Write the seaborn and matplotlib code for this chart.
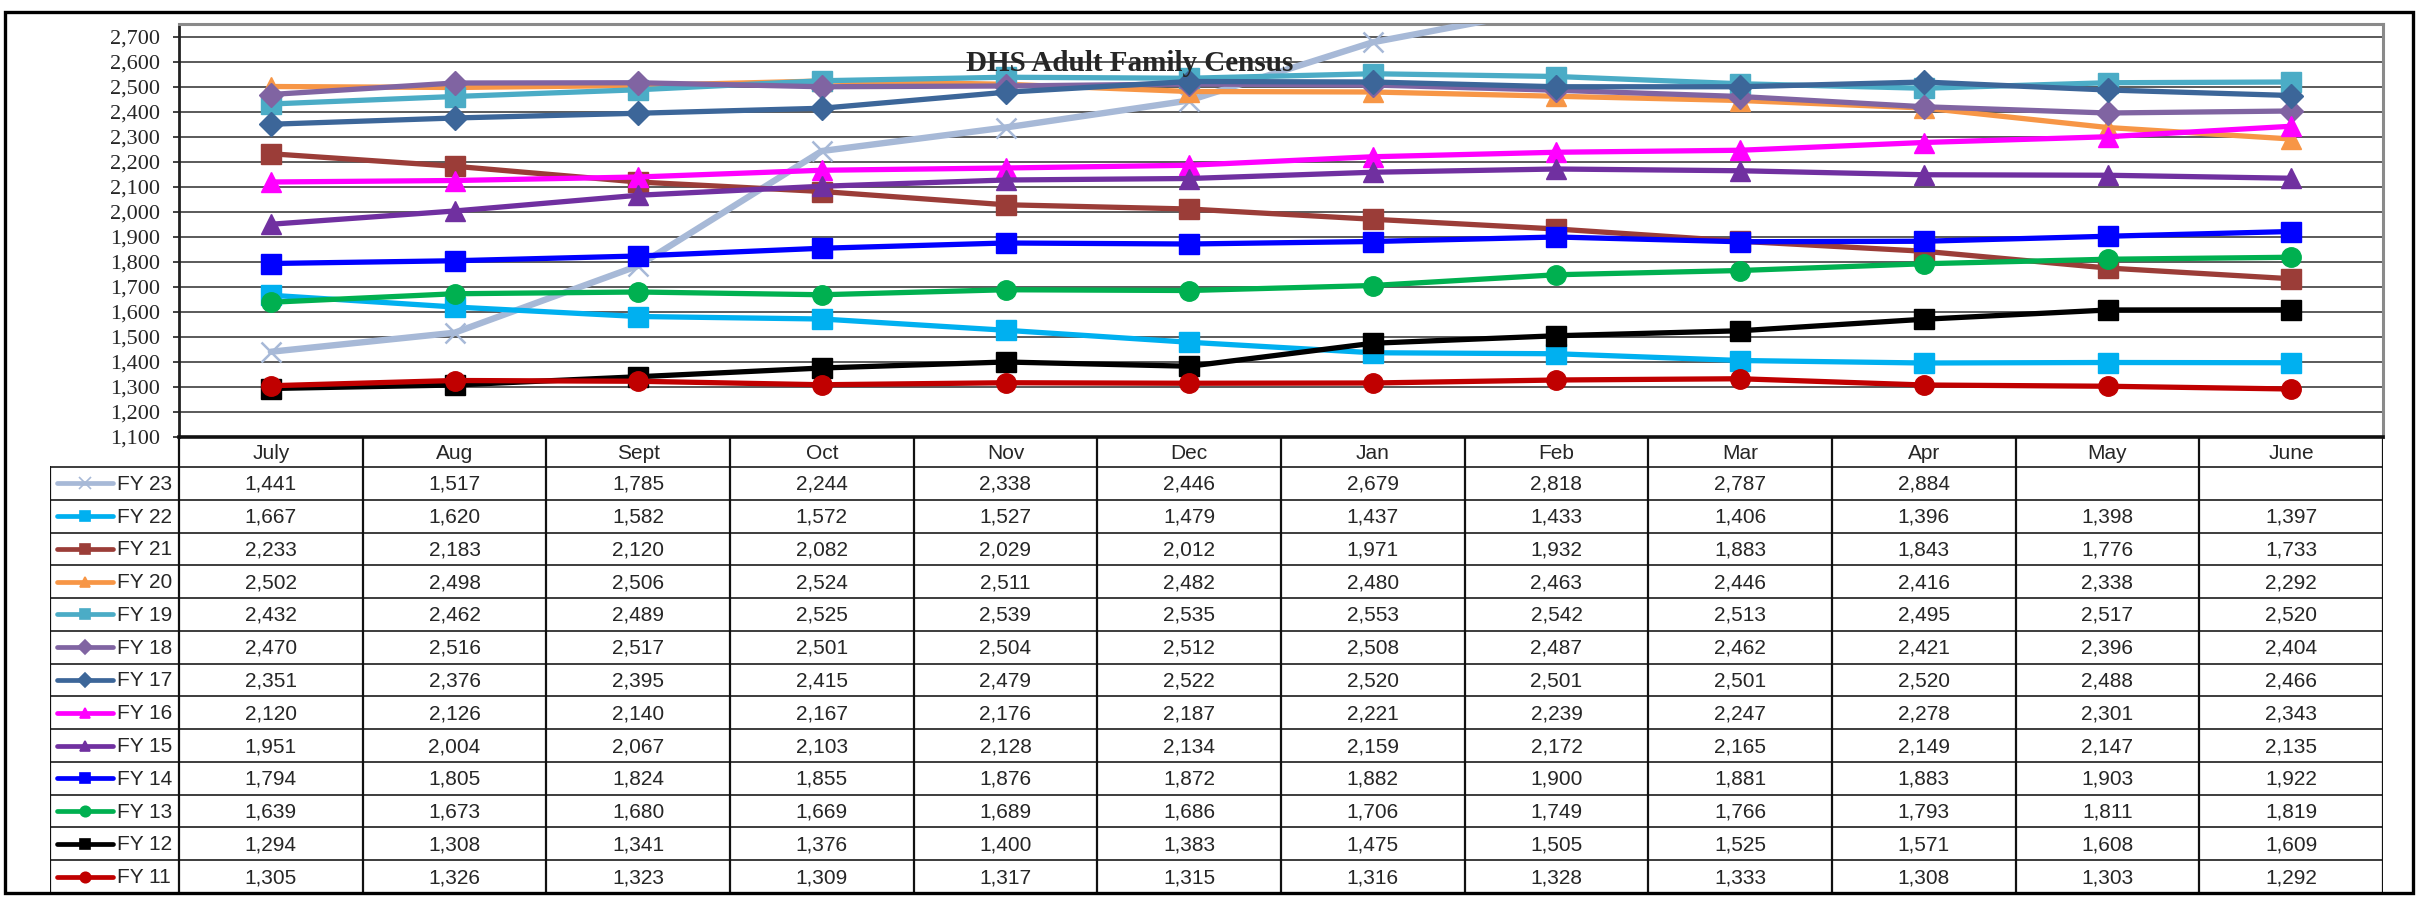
import numpy as np
import pandas as pd
import matplotlib
matplotlib.use("Agg")
import matplotlib.pyplot as plt
from matplotlib.patches import Rectangle
from matplotlib.ticker import FuncFormatter
import seaborn as sns

sns.set_style("white")
plt.rcParams['font.family'] = ['Liberation Sans', 'DejaVu Sans']

months = ["July", "Aug", "Sept", "Oct", "Nov", "Dec", "Jan", "Feb", "Mar", "Apr", "May", "June"]
series_names = ["FY 23", "FY 22", "FY 21", "FY 20", "FY 19", "FY 18", "FY 17",
                "FY 16", "FY 15", "FY 14", "FY 13", "FY 12", "FY 11"]

fy23 = [1441, 1517, 1785, 2244, 2338, 2446, 2679, 2818, 2787, 2884, np.nan, np.nan]
fy22 = [1667, 1620, 1582, 1572, 1527, 1479, 1437, 1433, 1406, 1396, 1398, 1397]
fy21 = [2233, 2183, 2120, 2082, 2029, 2012, 1971, 1932, 1883, 1843, 1776, 1733]
fy20 = [2502, 2498, 2506, 2524, 2511, 2482, 2480, 2463, 2446, 2416, 2338, 2292]
fy19 = [2432, 2462, 2489, 2525, 2539, 2535, 2553, 2542, 2513, 2495, 2517, 2520]
fy18 = [2470, 2516, 2517, 2501, 2504, 2512, 2508, 2487, 2462, 2421, 2396, 2404]
fy17 = [2351, 2376, 2395, 2415, 2479, 2522, 2520, 2501, 2501, 2520, 2488, 2466]
fy16 = [2120, 2126, 2140, 2167, 2176, 2187, 2221, 2239, 2247, 2278, 2301, 2343]
fy15 = [1951, 2004, 2067, 2103, 2128, 2134, 2159, 2172, 2165, 2149, 2147, 2135]
fy14 = [1794, 1805, 1824, 1855, 1876, 1872, 1882, 1900, 1881, 1883, 1903, 1922]
fy13 = [1639, 1673, 1680, 1669, 1689, 1686, 1706, 1749, 1766, 1793, 1811, 1819]
fy12 = [1294, 1308, 1341, 1376, 1400, 1383, 1475, 1505, 1525, 1571, 1608, 1609]
fy11 = [1305, 1326, 1323, 1309, 1317, 1315, 1316, 1328, 1333, 1308, 1303, 1292]

series_values = [fy23, fy22, fy21, fy20, fy19, fy18, fy17, fy16, fy15, fy14, fy13, fy12, fy11]

colors = ["#A7B9D7", "#00B0F0", "#9B3D38", "#F79646", "#4BACC6", "#8064A2", "#3C6699",
          "#FF00FF", "#7030A0", "#0000FF", "#00B050", "#000000", "#C00000"]
markers = ["x", "s", "s", "^", "s", "D", "D", "^", "^", "s", "o", "s", "o"]
msizes = [15, 14, 14, 15, 14, 12, 12, 15, 15, 14, 14, 14, 14]

Y_MIN, Y_MAX = 1100, 2752

rows = []
for name, vals in zip(series_names, series_values):
    for i, (m, v) in enumerate(zip(months, vals)):
        rows.append({"series": name, "pos": i, "month": m, "value": v})
df = pd.DataFrame(rows)

W, H = 2429, 897
fig = plt.figure(figsize=(W / 100, H / 100), dpi=100)

# pixel geometry
ax_l, ax_r, ax_t, ax_b = 179, 2383, 24, 437
tb_l, tb_b = 50, 893
ax = fig.add_axes([ax_l / W, 1 - ax_b / H, (ax_r - ax_l) / W, (ax_b - ax_t) / H])

for k, name in enumerate(series_names):
    sub = df[df["series"] == name].dropna()
    lw = 4.6 if name == "FY 23" else 3.8
    # like Excel: markers of points beyond the axis maximum are not shown
    visible = [i for i, v in enumerate(sub["value"].tolist()) if v <= Y_MAX]
    sns.lineplot(data=sub, x="pos", y="value", ax=ax, color=colors[k], marker=markers[k],
                 markersize=msizes[k], linewidth=lw, markeredgecolor=colors[k],
                 markeredgewidth=1.8 if markers[k] == "x" else 1, sort=False,
                 markevery=visible, zorder=3 + k, legend=False)

ax.set_xlim(-0.5, 11.5)
ax.set_ylim(Y_MIN, Y_MAX)
ax.set_yticks(range(1100, 2701, 100))
ax.yaxis.set_major_formatter(FuncFormatter(lambda v, p: f"{int(v):,}"))
ax.set_xticks([])
ax.set_xlabel("")
ax.set_ylabel("")
ax.grid(axis="y", color="#5a5a5a", linewidth=1.4, zorder=0)
ax.set_axisbelow(True)
ax.tick_params(axis="y", length=4.5, width=1.3, direction="out", pad=9, left=True, labelsize=16,
               color="#333333")
for lab in ax.get_yticklabels():
    lab.set_fontfamily("Liberation Serif")
for s in ["top", "right"]:
    ax.spines[s].set_color("#8a8a8a")
    ax.spines[s].set_linewidth(2.2)
ax.spines["left"].set_color("#222222")
ax.spines["left"].set_linewidth(2)
ax.spines["bottom"].set_color("#111111")
ax.spines["bottom"].set_linewidth(2.6)

# data table
colw = (ax_r - ax_l) / 12.0
legw = (ax_l - tb_l) / colw
rowh = (tb_b - ax_b - 30) / 13.0
hh = 30 / rowh
nrows = len(series_names)
tax = fig.add_axes([tb_l / W, 1 - tb_b / H, (ax_r - tb_l) / W, (tb_b - ax_b) / H])
tax.set_xlim(-0.5 - legw, 11.5)
tax.set_ylim(hh + nrows, 0)
tax.axis("off")

x0 = -0.5 - legw
for i in range(nrows + 1):
    tax.plot([x0, 11.5], [hh + i, hh + i], color="#3c3c3c", lw=1.4, solid_capstyle="butt")
for j in range(13):
    tax.plot([-0.5 + j, -0.5 + j], [0, hh + nrows], color="#111111", lw=1.6, solid_capstyle="butt")
tax.plot([x0, x0], [hh, hh + nrows], color="#111111", lw=1.6)

for j, m in enumerate(months):
    tax.text(j, hh / 2 + 0.05, m, ha="center", va="center", fontsize=15)

for k, (name, vals) in enumerate(zip(series_names, series_values)):
    yc = hh + k + 0.5
    for j, v in enumerate(vals):
        if not np.isnan(v):
            tax.text(j, yc + 0.03, f"{int(v):,}", ha="center", va="center", fontsize=15)
    kx = [x0 + 7 / colw, x0 + 35 / colw, x0 + 63 / colw]
    tax.plot(kx, [yc, yc, yc], color=colors[k], lw=3.4, marker=markers[k], markevery=[1],
             markersize=7.5 if markers[k] != "x" else 8, markeredgecolor=colors[k],
             markeredgewidth=1.2, solid_capstyle="round")
    tax.text(x0 + 67 / colw, yc + 0.03, name, ha="left", va="center", fontsize=15)

# title
fig.text(1130 / W, 1 - 71 / H, "DHS Adult Family Census", ha="center", va="baseline",
         fontsize=21, fontweight="bold", family="Liberation Serif", zorder=50)

# outer border
fig.add_artist(Rectangle((5 / W, 1 - 893 / H), (2413 - 5) / W, (893 - 12) / H,
                         transform=fig.transFigure, fill=False, edgecolor="black", linewidth=2.4))

fig.savefig("out.png", dpi=100)
